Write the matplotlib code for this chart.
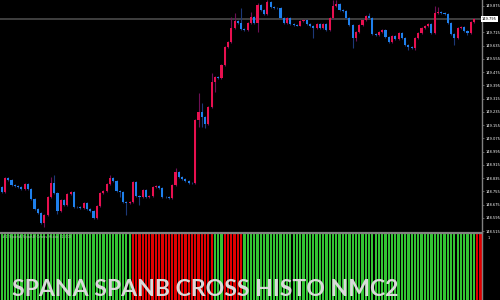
import matplotlib

matplotlib.use("Agg")
import matplotlib.pyplot as plt
import numpy as np

# candle data (USDJPY-like, one close per bar; open = previous close)
FIRST_OPEN = 148.784
closes = [
    148.754, 148.834, 148.824, 148.794, 148.788, 148.782, 148.770, 148.798, 148.770, 148.708,
    148.647, 148.627, 148.563, 148.613, 148.723, 148.804, 148.744, 148.637, 148.703, 148.673,
    148.738, 148.752, 148.663, 148.659, 148.657, 148.683, 148.647, 148.639, 148.593, 148.669,
    148.744, 148.758, 148.798, 148.838, 148.818, 148.758, 148.754, 148.690, 148.686, 148.691,
    148.812, 148.728, 148.722, 148.764, 148.723, 148.728, 148.784, 148.788, 148.774, 148.723,
    148.719, 148.716, 148.794, 148.874, 148.844, 148.828, 148.820, 148.808, 148.804, 149.186,
    149.237, 149.203, 149.162, 149.263, 149.418, 149.448, 149.438, 149.519, 149.625, 149.659,
    149.740, 149.786, 149.774, 149.734, 149.730, 149.774, 149.810, 149.774, 149.881, 149.851,
    149.826, 149.901, 149.871, 149.861, 149.860, 149.801, 149.770, 149.801, 149.766, 149.760,
    149.757, 149.786, 149.790, 149.766, 149.754, 149.740, 149.766, 149.740, 149.766, 149.730,
    149.801, 149.875, 149.887, 149.851, 149.845, 149.801, 149.760, 149.680, 149.720, 149.760,
    149.790, 149.814, 149.801, 149.706, 149.700, 149.720, 149.730, 149.686, 149.659, 149.694,
    149.674, 149.714, 149.680, 149.639, 149.629, 149.619, 149.680, 149.710, 149.740, 149.754,
    149.766, 149.710, 149.831, 149.840, 149.831, 149.828, 149.774, 149.706, 149.680, 149.740,
    149.746, 149.726, 149.710, 149.780, 149.794,
]
# wick lengths beyond the body, in thousandths of a yen
wick_up = [
    6, 6, 6, 6, 6, 6, 6, 6, 6, 6,
    6, 6, 6, 6, 6, 40, 50, 6, 6, 6,
    6, 6, 6, 6, 6, 6, 6, 6, 6, 6,
    6, 6, 6, 16, 6, 6, 6, 6, 6, 6,
    6, 6, 6, 6, 6, 6, 6, 6, 6, 6,
    6, 6, 6, 22, 6, 6, 6, 6, 6, 6,
    113, 52, 6, 6, 51, 6, 6, 6, 6, 6,
    70, 45, 6, 87, 6, 6, 30, 6, 10, 6,
    6, 10, 6, 6, 6, 6, 6, 6, 6, 6,
    6, 6, 6, 6, 6, 6, 6, 6, 6, 6,
    6, 36, 24, 6, 6, 6, 6, 6, 6, 6,
    6, 6, 20, 6, 6, 6, 6, 6, 6, 6,
    6, 6, 6, 6, 6, 6, 6, 6, 6, 6,
    6, 6, 44, 30, 6, 6, 6, 6, 6, 6,
    6, 6, 6, 6, 6,
]
wick_dn = [
    6, 6, 6, 6, 6, 6, 6, 6, 6, 6,
    6, 6, 6, 20, 6, 6, 6, 20, 6, 6,
    6, 6, 6, 6, 6, 6, 6, 6, 6, 6,
    6, 6, 6, 6, 6, 6, 30, 6, 74, 6,
    6, 6, 48, 6, 6, 6, 6, 6, 6, 6,
    6, 6, 6, 6, 6, 6, 6, 6, 6, 6,
    42, 58, 26, 6, 6, 62, 6, 6, 6, 6,
    6, 6, 6, 6, 6, 6, 6, 6, 54, 6,
    6, 6, 6, 6, 6, 6, 6, 6, 6, 6,
    6, 6, 6, 6, 6, 58, 6, 6, 6, 6,
    6, 6, 6, 6, 6, 6, 6, 60, 15, 6,
    6, 6, 6, 6, 6, 6, 6, 6, 6, 6,
    6, 6, 6, 6, 20, 6, 10, 6, 6, 6,
    6, 6, 6, 6, 6, 6, 6, 6, 40, 6,
    6, 6, 10, 6, 6,
]
price_ticks = [
    148.515, 148.595, 148.675, 148.755, 148.835, 148.915, 148.995, 149.075, 149.155,
    149.235, 149.315, 149.395, 149.475, 149.555, 149.635, 149.715, 149.875,
]
BID = 149.795
PRICE_RANGE = (148.510, 149.911)

# histogram state runs: (state, number of bars)
hist_runs = [("up", 40), ("down", 25), ("up", 3), ("down", 6), ("up", 71), ("down", 2)]

PANEL_TITLE = "#1 SpanA SpanB Cross Histo (1.00)"
BANNER = "SPANA SPANB CROSS HISTO NMC2"

BULL = "#e8104f"
BEAR = "#1e80ec"
BULL_WICK = "#6e0f55"
BEAR_WICK = "#1c3878"
HIST_COLORS = {"up": "#33c433", "down": "#e00000"}
GRID = "#808080"


def main() -> None:
    c = np.array(closes)
    o = np.r_[FIRST_OPEN, c[:-1]]
    top = np.maximum(o, c)
    bot = np.minimum(o, c)
    hi = top + np.array(wick_up) / 1000.0
    lo = bot - np.array(wick_dn) / 1000.0
    x = np.arange(len(c))
    up = c >= o

    fig = plt.figure(figsize=(5, 3), dpi=100, facecolor="black")
    ax = fig.add_axes([0, 0.2267, 0.964, 0.7733], facecolor="black")
    axh = fig.add_axes([0, 0, 0.964, 0.2233], facecolor="black")

    xlim = (-0.52, 146.43)

    # candles
    ax.vlines(x[up], lo[up], hi[up], color=BULL_WICK, lw=0.8, zorder=1)
    ax.vlines(x[~up], lo[~up], hi[~up], color=BEAR_WICK, lw=0.8, zorder=1)
    h = np.maximum(top - bot, 0.002)
    ax.bar(x[up], h[up], bottom=bot[up], width=0.64, color=BULL, lw=0, zorder=2)
    ax.bar(x[~up], h[~up], bottom=bot[~up], width=0.64, color=BEAR, lw=0, zorder=2)

    ax.axhline(BID, color="#4a4a4a", lw=1.2, zorder=0)

    ax.set_xlim(*xlim)
    ax.set_ylim(*PRICE_RANGE)
    ax.set_xticks([])
    ax.yaxis.tick_right()
    ax.set_yticks(price_ticks)
    ax.set_yticklabels([f"{p:.3f}" for p in price_ticks])
    ax.tick_params(axis="y", colors=GRID, labelcolor="white", labelsize=2.6,
                   length=1.5, width=0.5, pad=1)
    for side in ("top", "left", "bottom"):
        ax.spines[side].set_visible(False)
    ax.spines["right"].set_color(GRID)
    ax.spines["right"].set_linewidth(1)
    ax.text(1.0, BID, f"{BID:.3f}", transform=ax.get_yaxis_transform(),
            fontsize=2.6, color="black", va="center", ha="left",
            bbox=dict(boxstyle="square,pad=0.25", fc="white", ec="none"), clip_on=False)

    # histogram
    states = [s for s, n in hist_runs for _ in range(n)]
    hx = np.arange(len(states))
    axh.bar(hx, np.ones(len(states)), width=0.68,
            color=[HIST_COLORS[s] for s in states], lw=0)
    axh.set_xlim(*xlim)
    axh.set_ylim(0, 1.0)
    axh.set_xticks([])
    axh.set_yticks([])
    for side in ("top", "left", "bottom"):
        axh.spines[side].set_visible(False)
    axh.spines["right"].set_color(GRID)
    axh.spines["right"].set_linewidth(1)
    axh.text(1.012, 0.93, "1", transform=axh.transAxes, fontsize=2.6, color="white",
             va="center", ha="left")
    axh.text(0.004, 0.945, PANEL_TITLE, transform=axh.transAxes, fontsize=2.8,
             color="#b0b0b0", va="center", ha="left")

    # panel separator
    fig.add_artist(plt.Line2D([0, 0.964], [0.2250, 0.2250], color=GRID, lw=1.6))

    fig.text(0.024, 0.012, BANNER, fontsize=16.6, family="Lato", weight="bold",
             color="#dadada", va="baseline", ha="left")

    fig.savefig("out.png", dpi=100, facecolor="black")
    plt.close(fig)


if __name__ == "__main__":
    main()
